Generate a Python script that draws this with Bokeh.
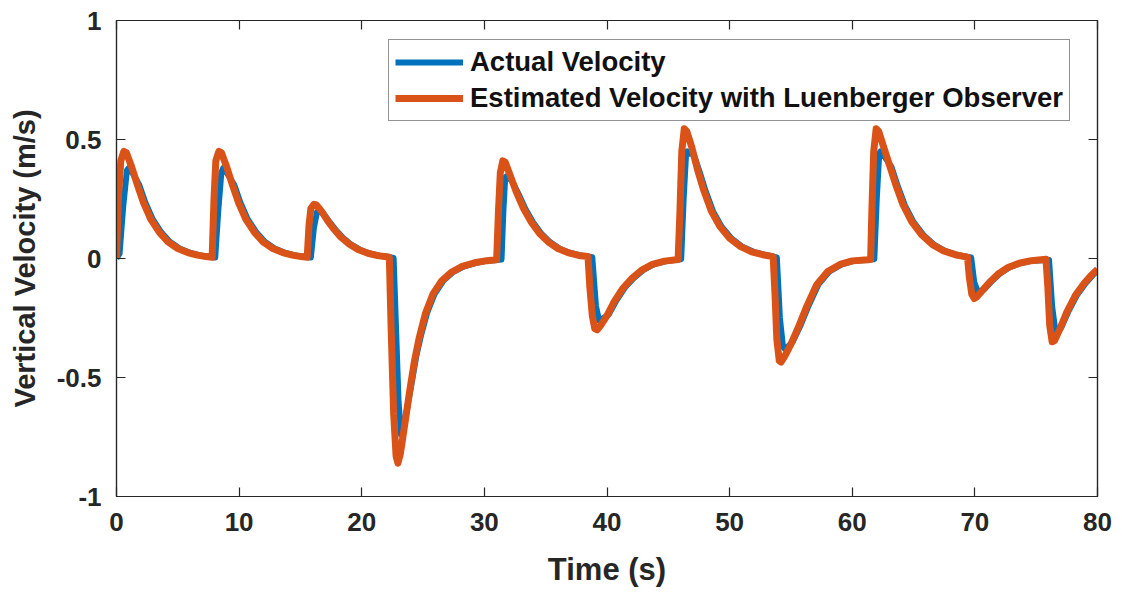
from bokeh.plotting import figure
from bokeh.models import LinearAxis, FixedTicker, Legend, LegendItem, Range1d
from bokeh.embed import file_html
from bokeh.resources import INLINE

# ---- data ----
t_est = [0.0, 0.15, 0.35, 0.6, 0.8, 1.2, 1.7, 2.2, 2.8, 3.5, 4.2, 5.0, 5.8, 6.6, 7.3, 7.8,
         7.95, 8.1, 8.35, 8.55, 8.95, 9.45, 9.95, 10.55, 11.25, 11.95, 12.75, 13.55, 14.35, 15.05, 15.55,
         15.7, 15.85, 16.1, 16.3, 16.7, 17.2, 17.7, 18.3, 19.0, 19.7, 20.5, 21.3, 22.0, 22.25,
         22.4, 22.6, 22.8, 22.95, 23.15, 23.5, 23.9, 24.3, 24.7, 25.2, 25.8, 26.5, 27.3, 28.2, 29.2, 30.2, 31.0,
         31.15, 31.3, 31.5, 31.7, 32.1, 32.6, 33.2, 33.8, 34.5, 35.2, 36.0, 36.8, 37.7, 38.45,
         38.6, 38.8, 39.0, 39.2, 39.5, 40.0, 40.6, 41.3, 42.0, 42.8, 43.7, 44.7, 45.8,
         45.95, 46.1, 46.3, 46.5, 46.9, 47.4, 47.9, 48.5, 49.2, 50.0, 50.9, 51.8, 52.7, 53.55,
         53.7, 53.85, 54.05, 54.2, 54.5, 55.0, 55.6, 56.3, 57.1, 58.0, 59.0, 60.0, 61.0, 61.5,
         61.6, 61.75, 61.95, 62.15, 62.55, 63.05, 63.55, 64.15, 64.85, 65.65, 66.55, 67.45, 68.4, 69.4,
         69.55, 69.75, 69.95, 70.15, 70.6, 71.2, 71.9, 72.7, 73.6, 74.6, 75.8,
         75.95, 76.1, 76.3, 76.5, 76.9, 77.5, 78.2, 78.9, 79.5, 80.0]
v_est = [0.0, 0.25, 0.41, 0.45, 0.445, 0.39, 0.31, 0.235, 0.165, 0.11, 0.07, 0.042, 0.025, 0.014, 0.008, 0.005,
         0.25, 0.41, 0.45, 0.445, 0.39, 0.31, 0.235, 0.165, 0.11, 0.07, 0.042, 0.025, 0.014, 0.008, 0.005,
         0.14, 0.21, 0.228, 0.225, 0.2, 0.16, 0.125, 0.09, 0.06, 0.038, 0.022, 0.012, 0.007, 0.005,
         -0.3, -0.65, -0.83, -0.86, -0.82, -0.7, -0.56, -0.43, -0.33, -0.23, -0.15, -0.095, -0.058, -0.033, -0.018, -0.009, -0.005,
         0.2, 0.36, 0.41, 0.405, 0.35, 0.28, 0.21, 0.155, 0.105, 0.07, 0.042, 0.025, 0.013, 0.008,
         -0.12, -0.24, -0.295, -0.30, -0.28, -0.24, -0.18, -0.125, -0.085, -0.05, -0.025, -0.011, -0.004,
         0.2, 0.45, 0.545, 0.535, 0.47, 0.37, 0.285, 0.2, 0.135, 0.085, 0.05, 0.028, 0.016, 0.008,
         -0.15, -0.34, -0.43, -0.435, -0.41, -0.36, -0.29, -0.2, -0.11, -0.055, -0.025, -0.01, -0.006, -0.004,
         0.2, 0.45, 0.545, 0.535, 0.47, 0.39, 0.31, 0.225, 0.155, 0.1, 0.058, 0.032, 0.016, 0.006,
         -0.08, -0.15, -0.168, -0.162, -0.135, -0.1, -0.065, -0.038, -0.02, -0.009, -0.003,
         -0.12, -0.28, -0.35, -0.345, -0.3, -0.225, -0.155, -0.105, -0.07, -0.045]

t_act = [0.0, 0.25, 0.55, 0.85, 1.0, 1.3, 1.85, 2.35, 2.95, 3.65, 4.35, 5.15, 5.95, 6.75, 7.45, 8.05,
         8.3, 8.55, 8.7, 9.0, 9.6, 10.1, 10.7, 11.4, 12.1, 12.9, 13.7, 14.5, 15.2, 15.85,
         16.1, 16.35, 16.5, 16.85, 17.35, 17.85, 18.45, 19.15, 19.85, 20.65, 21.45, 22.15, 22.6,
         22.8, 23.0, 23.2, 23.4, 23.7, 24.05, 24.45, 24.85, 25.35, 25.95, 26.65, 27.45, 28.35, 29.35, 30.35, 31.4,
         31.55, 31.7, 31.8, 32.2, 32.75, 33.35, 33.95, 34.65, 35.35, 36.15, 36.95, 37.85, 38.8,
         39.1, 39.35, 39.55, 40.15, 40.75, 41.45, 42.15, 42.95, 43.85, 44.85, 46.05,
         46.25, 46.45, 46.55, 46.8, 47.05, 47.55, 48.05, 48.65, 49.35, 50.15, 51.05, 51.95, 52.85, 53.85,
         54.1, 54.35, 54.5, 54.75, 55.15, 55.75, 56.45, 57.25, 58.15, 59.15, 60.15, 61.8,
         62.0, 62.2, 62.3, 62.6, 63.2, 63.7, 64.3, 65.0, 65.8, 66.7, 67.6, 68.55, 69.7,
         69.95, 70.25, 70.4, 70.75, 71.35, 72.05, 72.85, 73.75, 74.75, 76.05,
         76.3, 76.55, 76.7, 77.05, 77.65, 78.35, 79.05, 79.65, 80.0]
v_act = [0.0, 0.02, 0.22, 0.37, 0.38, 0.36, 0.31, 0.235, 0.165, 0.11, 0.07, 0.042, 0.025, 0.014, 0.008, 0.004,
         0.2, 0.36, 0.38, 0.36, 0.31, 0.235, 0.165, 0.11, 0.07, 0.042, 0.025, 0.014, 0.008, 0.004,
         0.13, 0.195, 0.2, 0.19, 0.155, 0.122, 0.088, 0.058, 0.037, 0.021, 0.012, 0.007, 0.002,
         -0.3, -0.6, -0.74, -0.72, -0.63, -0.53, -0.41, -0.32, -0.225, -0.148, -0.094, -0.057, -0.033, -0.018, -0.009, -0.004,
         0.2, 0.34, 0.345, 0.33, 0.275, 0.208, 0.153, 0.104, 0.069, 0.041, 0.024, 0.013, 0.005,
         -0.2, -0.26, -0.255, -0.235, -0.178, -0.123, -0.084, -0.049, -0.024, -0.011, -0.003,
         0.25, 0.44, 0.45, 0.44, 0.44, 0.365, 0.282, 0.198, 0.134, 0.084, 0.049, 0.028, 0.016, 0.005,
         -0.25, -0.37, -0.38, -0.37, -0.35, -0.285, -0.197, -0.108, -0.054, -0.025, -0.01, -0.003,
         0.25, 0.44, 0.45, 0.43, 0.385, 0.305, 0.222, 0.153, 0.099, 0.057, 0.031, 0.015, 0.004,
         -0.1, -0.14, -0.14, -0.13, -0.097, -0.063, -0.037, -0.019, -0.009, -0.006,
         -0.2, -0.3, -0.3, -0.29, -0.22, -0.152, -0.103, -0.068, -0.05]

x_ticks = [0, 10, 20, 30, 40, 50, 60, 70, 80]
x_tick_labels = ["0", "10", "20", "30", "40", "50", "60", "70", "80"]
y_ticks = [-1, -0.5, 0, 0.5, 1]
y_tick_labels = ["-1", "-0.5", "0", "0.5", "1"]

series_names = ["Actual Velocity", "Estimated Velocity with Luenberger Observer"]
x_title = "Time (s)"
y_title = "Vertical Velocity (m/s)"
blue = "#0072BD"
orange = "#D95319"
ink = "#262626"
FONT = "Liberation Sans"

p = figure(width=1122, height=592, output_backend="svg", toolbar_location=None,
           x_range=Range1d(0, 80), y_range=Range1d(-1, 1),
           min_border_left=116, min_border_right=25, min_border_top=20, min_border_bottom=96,
           background_fill_color="white", border_fill_color="white")
p.grid.visible = False
p.outline_line_color = ink
p.outline_line_width = 1.2

r1 = p.line(t_act, v_act, line_color=blue, line_width=6, line_join="round")
r2 = p.line(t_est, v_est, line_color=orange, line_width=7, line_join="round")


def style(ax, ticks, labels, show):
    ax.ticker = FixedTicker(ticks=ticks)
    ax.major_label_overrides = {k: l for k, l in zip(ticks, labels)}
    ax.major_tick_in = 9
    ax.major_tick_out = 0
    ax.minor_tick_line_color = None
    ax.axis_line_color = ink
    ax.axis_line_width = 1.2
    ax.major_tick_line_color = ink
    ax.major_tick_line_width = 1.2
    ax.major_label_text_font = FONT
    ax.major_label_text_font_style = "bold"
    ax.major_label_text_color = ink
    if not show:
        ax.major_label_text_color = None
        ax.major_label_text_font_size = "0px"
        ax.major_label_standoff = 0


xa = p.xaxis[0]
ya = p.yaxis[0]
style(xa, x_ticks, x_tick_labels, True)
style(ya, y_ticks, y_tick_labels, True)
xa.major_label_text_font_size = "26px"
ya.major_label_text_font_size = "26px"
xa.major_label_standoff = 16
ya.major_label_standoff = 15
xa.axis_label = x_title
ya.axis_label = y_title
for ax in (xa, ya):
    ax.axis_label_text_font = FONT
    ax.axis_label_text_font_style = "bold"
    ax.axis_label_text_color = ink
xa.axis_label_text_font_size = "31px"
ya.axis_label_text_font_size = "29px"
xa.axis_label_standoff = 18
ya.axis_label_standoff = 13

top = LinearAxis()
right = LinearAxis()
style(top, x_ticks, x_tick_labels, False)
style(right, y_ticks, y_tick_labels, False)
p.add_layout(top, "above")
p.add_layout(right, "right")

legend = Legend(items=[LegendItem(label=series_names[0], renderers=[r1]),
                       LegendItem(label=series_names[1], renderers=[r2])],
                location=(272, 375))
legend.label_text_font = FONT
legend.label_text_font_style = "bold"
legend.label_text_font_size = "27.5px"
legend.label_text_color = "#111111"
legend.glyph_width = 68
legend.glyph_height = 30
legend.label_height = 30
legend.label_standoff = 7
legend.padding = 6
legend.spacing = 4
legend.margin = 0
legend.border_line_color = ink
legend.border_line_width = 1.2
legend.background_fill_color = "white"
legend.background_fill_alpha = 1
p.add_layout(legend, "center")

open("out.html", "w").write(file_html(p, INLINE))
